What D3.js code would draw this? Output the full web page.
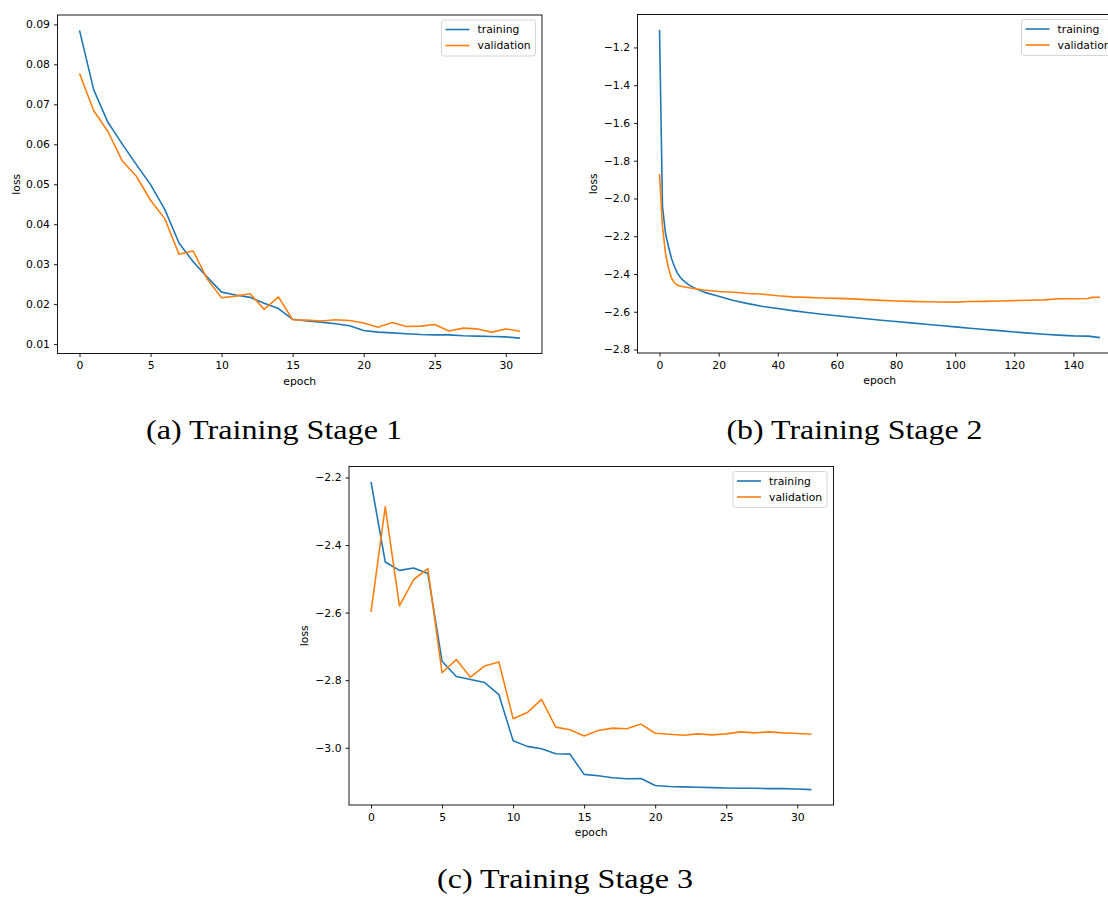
<!DOCTYPE html>
<html>

<head>
    <meta charset="utf-8">
    <script src="https://d3js.org/d3.v7.min.js"></script>
    <style>
        body { margin: 0; background: #fff; }
        text { font-family: "DejaVu Sans", sans-serif; }
    </style>
</head>

<body>
    <div id="viz"></div>

    <script>

        // ---- data ----
        // stage 1: one value per epoch (0..31)
        var stage1Train = [0.0885, 0.0736, 0.0655, 0.0601, 0.0549, 0.0499, 0.0437, 0.0353, 0.0306, 0.0267,
            0.0230, 0.0223, 0.0217, 0.0202, 0.0189, 0.0162, 0.0158, 0.0155, 0.0151, 0.0146,
            0.0134, 0.0130, 0.0128, 0.0126, 0.0124, 0.0123, 0.0123, 0.0121, 0.0120, 0.0119,
            0.0118, 0.0115]
        var stage1Val = [0.0777, 0.0684, 0.0632, 0.0559, 0.0520, 0.0460, 0.0414, 0.0325, 0.0333, 0.0262,
            0.0216, 0.0220, 0.0226, 0.0187, 0.0218, 0.0161, 0.0160, 0.0158, 0.0161, 0.0159,
            0.0153, 0.0142, 0.0154, 0.0144, 0.0145, 0.0149, 0.0133, 0.0140, 0.0138, 0.0130,
            0.0138, 0.0132]

        // stage 2: sampled epochs (0..149)
        var stage2TrainEpochs = [0, 1, 2, 3, 4, 5, 6, 7, 8, 10, 12, 15, 20, 25, 30, 35, 40, 45, 50, 55, 60, 65, 70,
            75, 80, 85, 90, 95, 100, 105, 110, 115, 120, 125, 130, 135, 140, 145, 149]
        var stage2Train = [-1.107, -2.042, -2.183, -2.253, -2.315, -2.359, -2.394, -2.417, -2.434, -2.459, -2.475,
            -2.496, -2.518, -2.540, -2.557, -2.572, -2.583, -2.594, -2.604, -2.613, -2.621, -2.629, -2.637,
            -2.645, -2.652, -2.659, -2.666, -2.673, -2.680, -2.687, -2.694, -2.700, -2.707, -2.713, -2.719,
            -2.724, -2.728, -2.729, -2.737]
        var stage2ValEpochs = [0, 1, 2, 3, 4, 5, 6, 7, 8, 10, 12, 15, 20, 25, 30, 35, 40, 45, 50, 55, 60, 65, 70,
            75, 80, 85, 90, 95, 100, 105, 110, 115, 120, 125, 130, 135, 140, 145, 146, 149]
        var stage2Val = [-1.870, -2.148, -2.288, -2.367, -2.420, -2.446, -2.459, -2.464, -2.468, -2.473, -2.478,
            -2.485, -2.493, -2.497, -2.503, -2.507, -2.515, -2.521, -2.524, -2.527, -2.529, -2.532, -2.536,
            -2.540, -2.543, -2.545, -2.547, -2.548, -2.549, -2.546, -2.545, -2.543, -2.541, -2.539, -2.537,
            -2.531, -2.531, -2.530, -2.524, -2.523]

        // stage 3: one value per epoch (0..31)
        var stage3Train = [-2.213, -2.450, -2.475, -2.468, -2.484, -2.744, -2.789, -2.798, -2.807, -2.843,
            -2.979, -2.996, -3.003, -3.018, -3.019, -3.079, -3.083, -3.089, -3.092, -3.091,
            -3.112, -3.115, -3.116, -3.117, -3.118, -3.119, -3.120, -3.120, -3.121, -3.121,
            -3.122, -3.124]
        var stage3Val = [-2.598, -2.287, -2.580, -2.502, -2.470, -2.778, -2.739, -2.791, -2.758, -2.746,
            -2.914, -2.896, -2.857, -2.939, -2.947, -2.965, -2.949, -2.942, -2.944, -2.930,
            -2.957, -2.960, -2.963, -2.959, -2.962, -2.959, -2.953, -2.956, -2.953, -2.956,
            -2.958, -2.960]

        // tick labels
        var stage1XTicks = [0, 5, 10, 15, 20, 25, 30]
        var stage1YTicks = [0.01, 0.02, 0.03, 0.04, 0.05, 0.06, 0.07, 0.08, 0.09]
        var stage2XTicks = [0, 20, 40, 60, 80, 100, 120, 140]
        var stage2YTicks = [-2.8, -2.6, -2.4, -2.2, -2.0, -1.8, -1.6, -1.4, -1.2]
        var stage3XTicks = [0, 5, 10, 15, 20, 25, 30]
        var stage3YTicks = [-3.0, -2.8, -2.6, -2.4, -2.2]

        var seriesNames = ["training", "validation"]
        var captions = ["(a) Training Stage 1", "(b) Training Stage 2", "(c) Training Stage 3"]

        var colors = ["#1f77b4", "#ff7f0e"]
        var W = 1108, H = 900, boxW = 484.5, boxH = 338.5

        var svg = d3.select("#viz")
            .append("svg")
            .attr("width", W)
            .attr("height", H)

        function withIndex(values) {
            return values.map(function (v, i) { return [i, v] })
        }
        function zipped(epochs, values) {
            return values.map(function (v, i) { return [epochs[i], v] })
        }

        // matplotlib style 5% margins
        function padded(ext) {
            var p = (ext[1] - ext[0]) * 0.05
            return [ext[0] - p, ext[1] + p]
        }

        function drawPanel(cfg) {
            var g = svg.append("g")
                .attr("transform", "translate(" + cfg.left + "," + cfg.top + ")")

            var all = cfg.series[0].concat(cfg.series[1])
            var x = d3.scaleLinear()
                .domain(padded(d3.extent(all, function (d) { return d[0] })))
                .range([0, boxW])
            var y = d3.scaleLinear()
                .domain(padded(d3.extent(all, function (d) { return d[1] })))
                .range([boxH, 0])

            var line = d3.line()
                .x(function (d) { return x(d[0]) })
                .y(function (d) { return y(d[1]) })

            // clip lines to the axes box
            var clipId = "clip" + cfg.id
            g.append("clipPath").attr("id", clipId)
                .append("rect").attr("width", boxW).attr("height", boxH)

            cfg.series.forEach(function (s, i) {
                g.append("path")
                    .datum(s)
                    .attr("clip-path", "url(#" + clipId + ")")
                    .attr("fill", "none")
                    .attr("stroke", colors[i])
                    .attr("stroke-width", 1.6)
                    .attr("stroke-linejoin", "round")
                    .attr("d", line)
            })

            var xAxis = g.append("g")
                .attr("transform", "translate(0," + boxH + ")")
                .call(d3.axisBottom(x).tickValues(cfg.xTicks).tickFormat(d3.format("d"))
                    .tickSize(3.5).tickPadding(4.5))
            var yAxis = g.append("g")
                .call(d3.axisLeft(y).tickValues(cfg.yTicks).tickFormat(d3.format(cfg.yFormat))
                    .tickSize(3.5).tickPadding(4))
            ;[xAxis, yAxis].forEach(function (a) {
                a.select(".domain").remove()
                a.selectAll("line").attr("stroke", "#000").attr("stroke-width", 0.9)
                a.selectAll("text").attr("fill", "#000")
                    .style("font-family", "DejaVu Sans").style("font-size", "10.8px")
            })

            // frame
            g.append("rect")
                .attr("width", boxW)
                .attr("height", boxH)
                .attr("fill", "none")
                .attr("stroke", "#000")
                .attr("stroke-width", 0.9)

            g.append("text")
                .attr("x", boxW / 2)
                .attr("y", boxH + 31)
                .attr("text-anchor", "middle")
                .style("font-size", "10.8px")
                .text("epoch")

            g.append("text")
                .attr("transform", "translate(" + (-cfg.ylabelOffset) + "," + (boxH / 2) + ") rotate(-90)")
                .attr("text-anchor", "middle")
                .style("font-size", "10.8px")
                .text("loss")

            // legend
            var lg = g.append("g")
                .attr("transform", "translate(" + (boxW - 6.5 - 94) + ",5)")
            lg.append("rect")
                .attr("width", 94)
                .attr("height", 36)
                .attr("rx", 2.5)
                .attr("fill", "#fff")
                .attr("fill-opacity", 0.8)
                .attr("stroke", "#d0d0d0")
                .attr("stroke-width", 0.9)
            seriesNames.forEach(function (name, i) {
                var yy = 9.5 + i * 16
                lg.append("line")
                    .attr("x1", 4).attr("x2", 28)
                    .attr("y1", yy).attr("y2", yy)
                    .attr("stroke", colors[i])
                    .attr("stroke-width", 1.6)
                lg.append("text")
                    .attr("x", 36)
                    .attr("y", yy)
                    .attr("dy", "0.35em")
                    .style("font-size", "10.8px")
                    .text(name)
            })
        }

        drawPanel({
            id: "a", left: 57.5, top: 15,
            series: [withIndex(stage1Train), withIndex(stage1Val)],
            xTicks: stage1XTicks, yTicks: stage1YTicks, yFormat: ".2f", ylabelOffset: 38
        })
        drawPanel({
            id: "b", left: 637.5, top: 14.5,
            series: [zipped(stage2TrainEpochs, stage2Train), zipped(stage2ValEpochs, stage2Val)],
            xTicks: stage2XTicks, yTicks: stage2YTicks, yFormat: ".1f", ylabelOffset: 40.5
        })
        drawPanel({
            id: "c", left: 349, top: 466.5,
            series: [withIndex(stage3Train), withIndex(stage3Val)],
            xTicks: stage3XTicks, yTicks: stage3YTicks, yFormat: ".1f", ylabelOffset: 41
        })

        // sub-figure captions
        var captionPos = [[274, 439], [854.5, 439], [565, 888]]
        captions.forEach(function (c, i) {
            svg.append("text")
                .attr("x", captionPos[i][0])
                .attr("y", captionPos[i][1])
                .attr("text-anchor", "middle")
                .attr("textLength", 256)
                .attr("lengthAdjust", "spacingAndGlyphs")
                .style("font-family", "Liberation Serif, serif")
                .style("font-size", "27px")
                .attr("fill", "#000")
                .text(c)
        })

    </script>
</body>

</html>
